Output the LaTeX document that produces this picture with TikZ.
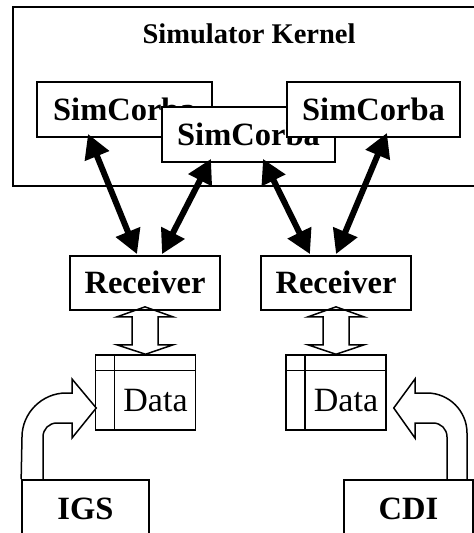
\documentclass[tikz,border=0pt]{standalone}
\usepackage{fontspec}
\setmainfont{Liberation Serif}
\usetikzlibrary{arrows.meta,calc}
\begin{document}
\begin{tikzpicture}[x=1pt,y=-1pt,
  box/.style={draw, line width=1.7pt, fill=white, inner sep=0pt,
    text height=21.5pt, text depth=0pt,
    font=\bfseries\fontsize{32.5}{36}\selectfont},
  databox/.style={draw, line width=1.5pt, inner sep=0pt, minimum width=100, minimum height=75},
  datatext/.style={inner sep=0pt, text height=22pt, text depth=0pt,
    font=\fontsize{34}{38}\selectfont},
  hollow/.style={draw, line width=1.5pt, line join=miter},
  thick arrow/.style={line width=6pt,
    {Triangle[length=24pt,width=25pt]}-{Triangle[length=24pt,width=25pt]}}]
\path[use as bounding box, clip] (0,0) rectangle (474,533);

% kernel
\node[draw, line width=2pt, minimum width=470, minimum height=179, inner sep=0pt] (k) at (248,96.5) {};
\node[anchor=base, inner sep=0pt, font=\bfseries\fontsize{28.5}{32}\selectfont] (kl) at (249,43) {Simulator Kernel};

% SimCorba boxes
\node[box, minimum width=175, minimum height=55] (sc1) at (124.5,109.5) {SimCorba};
\node[box, minimum width=173, minimum height=55] (sc2) at (248.5,134.5) {SimCorba};
\node[box, minimum width=173, minimum height=55] (sc3) at (373.5,109.5) {SimCorba};

% receivers
\node[box, minimum width=150, minimum height=54] (r1) at (145,283) {Receiver};
\node[box, minimum width=150, minimum height=54] (r2) at (336,283) {Receiver};

% thick double arrows
\draw[thick arrow] ($(sc1.south)+(-36.5,-4)$) -- ($(r1.north)+(-8,-1)$);
\draw[thick arrow] ($(sc2.south)+(-37.5,-4)$) -- ($(r1.north)+(17,-1)$);
\draw[thick arrow] ($(sc2.south)+(14.5,-4)$) -- ($(r2.north)+(-26,-1)$);
\draw[thick arrow] ($(sc3.south)+(13.5,-5)$) -- ($(r2.north)+(0,-1)$);

% data boxes
\node[databox] (d1) at (145.5,392.5) {};
\node[databox] (d2) at (336,392.5) {};
\draw[line width=1.5pt] ($(d1.north west)+(19.5,0)$) -- ($(d1.south west)+(19.5,0)$);
\draw[line width=1.5pt] ($(d1.north west)+(0,16)$) -- ($(d1.north east)+(0,16)$);
\draw[line width=1.5pt] ($(d2.north west)+(19.5,0)$) -- ($(d2.south west)+(19.5,0)$);
\draw[line width=1.5pt] ($(d2.north west)+(0,16)$) -- ($(d2.north east)+(0,16)$);
\node[datatext] (dt1) at (155.5,400.5) {Data};
\node[datatext] (dt2) at (346,400.5) {Data};

% hollow double arrows receiver <-> data
\coordinate (t1) at ($(r1.south)+(0,-4)$);
\coordinate (t2) at ($(r2.south)+(0,-4)$);
\draw[hollow] (t1) -- ($(t1)+(28,10)$) -- ($(t1)+(13,10)$) -- ($(t1)+(13,38)$) -- ($(t1)+(28,38)$)
  -- (d1.north) -- ($(t1)+(-28,38)$) -- ($(t1)+(-13,38)$) -- ($(t1)+(-13,10)$) -- ($(t1)+(-28,10)$) -- cycle;
\draw[hollow] (t2) -- ($(t2)+(28,10)$) -- ($(t2)+(13,10)$) -- ($(t2)+(13,38)$) -- ($(t2)+(28,38)$)
  -- (d2.north) -- ($(t2)+(-28,38)$) -- ($(t2)+(-13,38)$) -- ($(t2)+(-13,10)$) -- ($(t2)+(-28,10)$) -- cycle;

% IGS / CDI
\node[box, minimum width=127, minimum height=58, fill=none] (igs) at (85.5,509) {IGS};
\node[box, minimum width=129, minimum height=58, fill=none] (cdi) at (408.5,509) {CDI};

% bent hollow arrows
\coordinate (a1) at ($(d1.west)+(1.5,15.5)$);
\coordinate (a2) at ($(d2.east)+(7,15.5)$);
\draw[hollow] (igs.north west) -- (22,437) .. controls (22,413) and (42,393) .. (66,393) -- (72,393)
  -- (72,379) -- (a1) -- (72,438) -- (72,423) -- (57,423)
  .. controls (49,423) and (43,429) .. (43,437) -- (43,480);
\draw[hollow] (467,480) -- (467,433) .. controls (467,411) and (449,393) .. (427,393) -- (415,393)
  -- (415,379) -- (a2) -- (415,438) -- (415,423) -- (433,423)
  .. controls (441,423) and (447,429) .. (447,437) -- (447,480);
\end{tikzpicture}
\end{document}
